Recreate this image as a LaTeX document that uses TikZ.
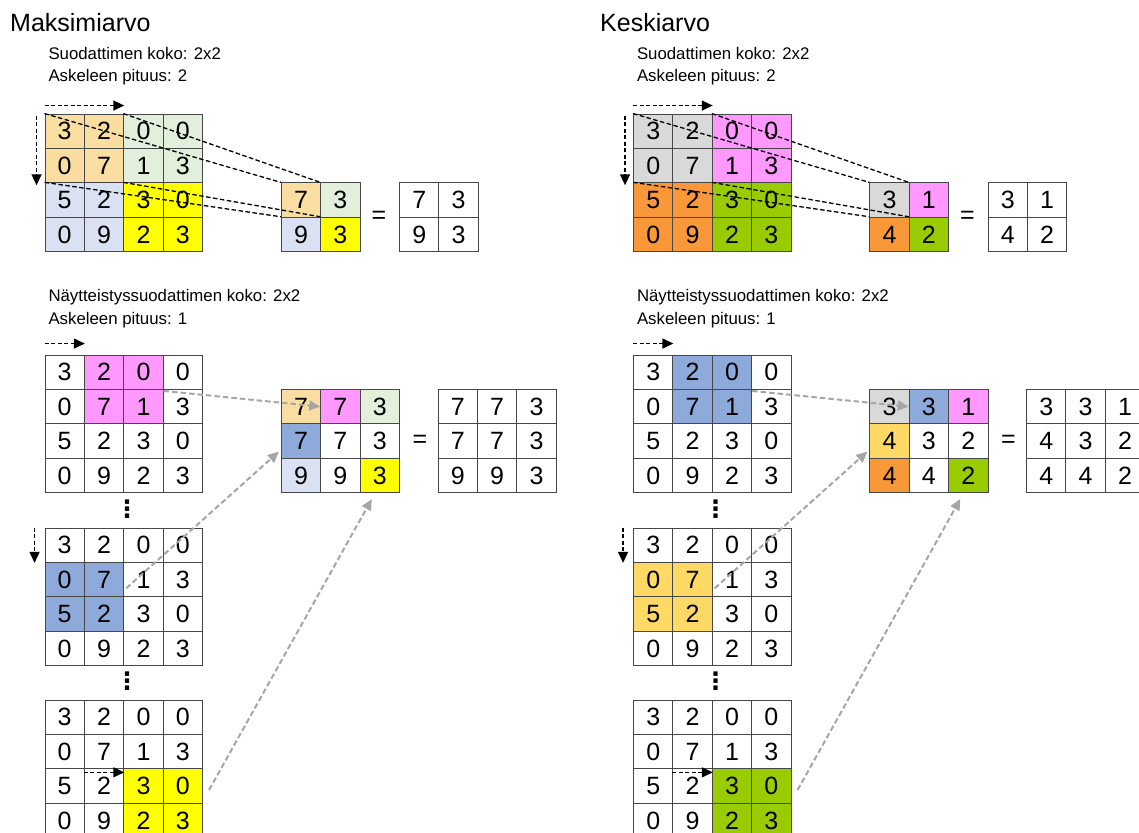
\documentclass[tikz,border=0pt]{standalone}
\usepackage{fontspec}
\setmainfont{Liberation Sans}
\newfontfamily\dejavu{DejaVu Sans}
\usetikzlibrary{arrows.meta,calc}
\definecolor{lo}{HTML}{FADDA0}
\definecolor{lg}{HTML}{E2EFDA}
\definecolor{lav}{HTML}{D9E1F2}
\definecolor{yel}{HTML}{FFFF00}
\definecolor{pk}{HTML}{FF99FF}
\definecolor{bl}{HTML}{8EAADB}
\definecolor{gy}{HTML}{D9D9D9}
\definecolor{orng}{HTML}{F99838}
\definecolor{gr}{HTML}{99CC00}
\definecolor{gd}{HTML}{FFD966}
\definecolor{gridc}{HTML}{474747}
\definecolor{arrgray}{HTML}{A6A6A6}
\tikzset{
 cell/.style={draw=gridc, line width=0.9pt, minimum width=39.4pt, minimum height=34.4pt, inner sep=0pt, font=\fontsize{25}{25}\selectfont, text=black},
 ttl/.style={anchor=base west, inner sep=0pt, font=\fontsize{25}{30}\selectfont},
 subttl/.style={anchor=base west, inner sep=0pt, font=\fontsize{16.8}{20}\selectfont},
 blkarrow/.style={draw=black, line width=1.5pt, dash pattern=on 4pt off 2.5pt, -{Triangle[length=11pt,width=10pt]}},
 blkline/.style={draw=black, line width=1.3pt, dash pattern=on 4.5pt off 2.5pt},
 grayarrow/.style={draw=arrgray, line width=2pt, dash pattern=on 5.5pt off 3pt, -{Triangle[length=11pt,width=10pt]}},
 eqsign/.style={font=\fontsize{25}{25}\selectfont, inner sep=0pt},
 dotsnode/.style={font=\fontsize{24}{24}\selectfont\dejavu\bfseries, inner sep=0pt},
}
\newcommand\mygrid[4]{\foreach \r/\c/\v/\f in {#4}{\node[cell,fill=\f] (#1-\r-\c) at ({#2+(\c+0.5)*39.4},{#3+(\r+0.5)*34.4}) {\v};}}
\begin{document}
\begin{tikzpicture}[x=1pt,y=-1pt]
\useasboundingbox[fill=white] (0,0) rectangle (1139,832);
% titles
\node[ttl] (tMax) at (10,31.5) {Maksimiarvo};
\node[ttl] (tAvg) at (600,31.5) {Keskiarvo};
\node[subttl] (sA1) at (48.3,59.3) {Suodattimen koko: 2x2};
\node[subttl] (sA2) at (48.3,81.7) {Askeleen pituus: 2};
\node[subttl] (sA3) at (48.3,301) {Näytteistyssuodattimen koko: 2x2};
\node[subttl] (sA4) at (48.3,324) {Askeleen pituus: 1};
\node[subttl] (sB1) at (636.8,59.3) {Suodattimen koko: 2x2};
\node[subttl] (sB2) at (636.8,81.7) {Askeleen pituus: 2};
\node[subttl] (sB3) at (636.8,301) {Näytteistyssuodattimen koko: 2x2};
\node[subttl] (sB4) at (636.8,324) {Askeleen pituus: 1};

% ===== left: Maksimiarvo =====
\mygrid{TA}{45}{114}{0/0/3/lo,0/1/2/lo,0/2/0/lg,0/3/0/lg,1/0/0/lo,1/1/7/lo,1/2/1/lg,1/3/3/lg,2/0/5/lav,2/1/2/lav,2/2/3/yel,2/3/0/yel,3/0/0/lav,3/1/9/lav,3/2/2/yel,3/3/3/yel}
\mygrid{TR}{281.3}{182.8}{0/0/7/lo,0/1/3/lg,1/0/9/lav,1/1/3/yel}
\mygrid{TO}{399.5}{182.8}{0/0/7/white,0/1/3/white,1/0/9/white,1/1/3/white}
\node[eqsign] (eqA) at (379,217.2) {=};
\draw[blkarrow] ($(TA-0-0.north west)+(0,-8)$) -- ($(TA-0-1.north east)+(0,-8)$);
\draw[blkarrow] ($(TA-0-0.north west)+(-8,2)$) -- ($(TA-1-0.south west)+(-8,2)$);
\draw[blkline] (TA-0-0.north west) -- (TR-0-0.north west);
\draw[blkline] (TA-0-2.north west) -- (TR-0-1.north west);
\draw[blkline] (TA-2-0.north west) -- (TR-1-0.north west);
\draw[blkline] (TA-2-2.north west) -- (TR-1-1.north west);

\mygrid{BA}{45}{355}{0/0/3/white,0/1/2/pk,0/2/0/pk,0/3/0/white,1/0/0/white,1/1/7/pk,1/2/1/pk,1/3/3/white,2/0/5/white,2/1/2/white,2/2/3/white,2/3/0/white,3/0/0/white,3/1/9/white,3/2/2/white,3/3/3/white}
\mygrid{BR}{281.3}{389.4}{0/0/7/lo,0/1/7/pk,0/2/3/lg,1/0/7/bl,1/1/7/white,1/2/3/white,2/0/9/lav,2/1/9/white,2/2/3/yel}
\mygrid{BO}{438}{389.4}{0/0/7/white,0/1/7/white,0/2/3/white,1/0/7/white,1/1/7/white,1/2/3/white,2/0/9/white,2/1/9/white,2/2/3/white}
\node[eqsign] (eqB) at (420,441) {=};
\mygrid{BB}{45}{528}{0/0/3/white,0/1/2/white,0/2/0/white,0/3/0/white,1/0/0/bl,1/1/7/bl,1/2/1/white,1/3/3/white,2/0/5/bl,2/1/2/bl,2/2/3/white,2/3/0/white,3/0/0/white,3/1/9/white,3/2/2/white,3/3/3/white}
\mygrid{BC}{45}{700}{0/0/3/white,0/1/2/white,0/2/0/white,0/3/0/white,1/0/0/white,1/1/7/white,1/2/1/white,1/3/3/white,2/0/5/white,2/1/2/white,2/2/3/yel,2/3/0/yel,3/0/0/white,3/1/9/white,3/2/2/yel,3/3/3/yel}
\node[dotsnode] (dA1) at (127,509) {⋮};
\node[dotsnode] (dA2) at (127,681) {⋮};
\draw[blkarrow] ($(BA-0-0.north west)+(0,-11)$) -- ($(BA-0-0.north east)+(0,-11)$);
\draw[blkarrow] ($(BB-0-0.north west)+(-10,0)$) -- ($(BB-0-0.south west)+(-10,0)$);
\draw[blkarrow] ($(BC-2-1.north west)+(0,4)$) -- ($(BC-2-1.north east)+(0,4)$);
\draw[grayarrow] ($(BA-1-2.north east)+(0,2)$) -- (BR-0-1.west);
\draw[grayarrow] ($(BB-1-1.south east)+(2,-9)$) -- ($(BR-1-0.south west)+(-2,-7)$);
\draw[grayarrow] ($(BC-2-3.east)+(6,4)$) -- ($(BR-2-2.south)+(-8,6)$);

% ===== right: Keskiarvo =====
\begin{scope}[xshift=588.5pt]
\mygrid{RTA}{45}{114}{0/0/3/gy,0/1/2/gy,0/2/0/pk,0/3/0/pk,1/0/0/gy,1/1/7/gy,1/2/1/pk,1/3/3/pk,2/0/5/orng,2/1/2/orng,2/2/3/gr,2/3/0/gr,3/0/0/orng,3/1/9/orng,3/2/2/gr,3/3/3/gr}
\mygrid{RTR}{281.3}{182.8}{0/0/3/gy,0/1/1/pk,1/0/4/orng,1/1/2/gr}
\mygrid{RTO}{399.5}{182.8}{0/0/3/white,0/1/1/white,1/0/4/white,1/1/2/white}
\node[eqsign] (eqC) at (379,217.2) {=};
\draw[blkarrow] ($(RTA-0-0.north west)+(0,-8)$) -- ($(RTA-0-1.north east)+(0,-8)$);
\draw[blkarrow] ($(RTA-0-0.north west)+(-8,2)$) -- ($(RTA-1-0.south west)+(-8,2)$);
\draw[blkline] (RTA-0-0.north west) -- (RTR-0-0.north west);
\draw[blkline] (RTA-0-2.north west) -- (RTR-0-1.north west);
\draw[blkline] (RTA-2-0.north west) -- (RTR-1-0.north west);
\draw[blkline] (RTA-2-2.north west) -- (RTR-1-1.north west);

\mygrid{RBA}{45}{355}{0/0/3/white,0/1/2/bl,0/2/0/bl,0/3/0/white,1/0/0/white,1/1/7/bl,1/2/1/bl,1/3/3/white,2/0/5/white,2/1/2/white,2/2/3/white,2/3/0/white,3/0/0/white,3/1/9/white,3/2/2/white,3/3/3/white}
\mygrid{RBR}{281.3}{389.4}{0/0/3/gy,0/1/3/bl,0/2/1/pk,1/0/4/gd,1/1/3/white,1/2/2/white,2/0/4/orng,2/1/4/white,2/2/2/gr}
\mygrid{RBO}{438}{389.4}{0/0/3/white,0/1/3/white,0/2/1/white,1/0/4/white,1/1/3/white,1/2/2/white,2/0/4/white,2/1/4/white,2/2/2/white}
\node[eqsign] (eqD) at (420,441) {=};
\mygrid{RBB}{45}{528}{0/0/3/white,0/1/2/white,0/2/0/white,0/3/0/white,1/0/0/gd,1/1/7/gd,1/2/1/white,1/3/3/white,2/0/5/gd,2/1/2/gd,2/2/3/white,2/3/0/white,3/0/0/white,3/1/9/white,3/2/2/white,3/3/3/white}
\mygrid{RBC}{45}{700}{0/0/3/white,0/1/2/white,0/2/0/white,0/3/0/white,1/0/0/white,1/1/7/white,1/2/1/white,1/3/3/white,2/0/5/white,2/1/2/white,2/2/3/gr,2/3/0/gr,3/0/0/white,3/1/9/white,3/2/2/gr,3/3/3/gr}
\node[dotsnode] (dB1) at (127,509) {⋮};
\node[dotsnode] (dB2) at (127,681) {⋮};
\draw[blkarrow] ($(RBA-0-0.north west)+(0,-11)$) -- ($(RBA-0-0.north east)+(0,-11)$);
\draw[blkarrow] ($(RBB-0-0.north west)+(-10,0)$) -- ($(RBB-0-0.south west)+(-10,0)$);
\draw[blkarrow] ($(RBC-2-1.north west)+(0,4)$) -- ($(RBC-2-1.north east)+(0,4)$);
\draw[grayarrow] ($(RBA-1-2.north east)+(0,2)$) -- (RBR-0-1.west);
\draw[grayarrow] ($(RBB-1-1.south east)+(2,-9)$) -- ($(RBR-1-0.south west)+(-2,-7)$);
\draw[grayarrow] ($(RBC-2-3.east)+(6,4)$) -- ($(RBR-2-2.south)+(-8,6)$);
\end{scope}
\end{tikzpicture}
\end{document}
